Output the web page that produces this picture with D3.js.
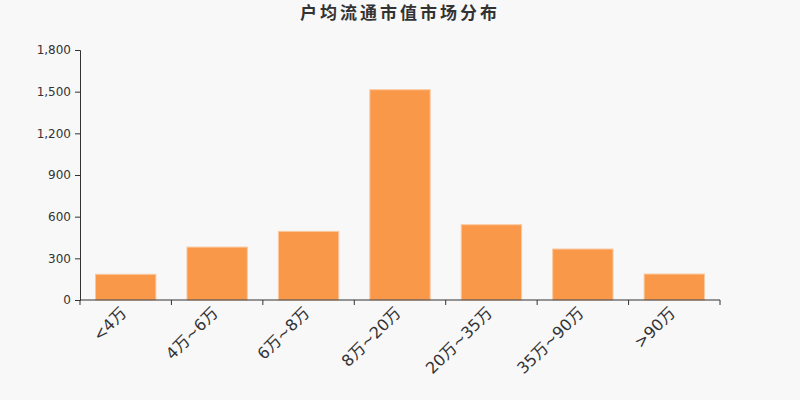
<!DOCTYPE html>
<html><head><meta charset="utf-8">
<script src="https://cdn.jsdelivr.net/npm/d3@7"></script>
<style>body{margin:0;background:#f8f8f8;}svg{display:block;font-family:"DejaVu Sans","Noto Sans CJK SC",sans-serif;}</style>
</head><body><svg id="c" width="800" height="400"></svg>
<script>
const categories = ["<4万","4万~6万","6万~8万","8万~20万","20万~35万","35万~90万",">90万"];
const values = [185, 381, 494, 1514, 542, 367, 187];
const yTicks = [0, 300, 600, 900, 1200, 1500, 1800];
const title = "户均流通市值市场分布";

const svg = d3.select("#c");
svg.append("rect").attr("width",800).attr("height",400).attr("fill","#f8f8f8");
const m = {l:80, r:80, t:50, b:100};
const x = d3.scaleBand().domain(categories).range([m.l, 800-m.r]).paddingInner(0.34).paddingOuter(0.17);
const y = d3.scaleLinear().domain([0,1800]).range([400-m.b, m.t]);

svg.append("text").attr("x",400).attr("y",19).attr("text-anchor","middle")
  .attr("font-size",17).attr("font-weight","bold").attr("letter-spacing",3).attr("fill","#333").text(title);

svg.selectAll("rect.bar").data(values).join("rect").attr("class","bar")
  .attr("x",(d,i)=>x(categories[i])).attr("width",x.bandwidth())
  .attr("y",d=>y(d)).attr("height",d=>y(0)-y(d))
  .attr("fill","#f89848").attr("stroke","#fbc8a0").attr("stroke-width",1);

const ya = svg.append("g").attr("transform",`translate(${m.l},0)`)
  .call(d3.axisLeft(y).tickValues(yTicks).tickSize(5).tickPadding(4).tickFormat(d3.format(",")));
ya.select(".domain").attr("stroke","#333");
ya.selectAll(".tick line").attr("stroke","#333");
ya.selectAll("text").attr("font-size",12).attr("fill","#333").attr("font-family","DejaVu Sans");

// x axis with ticks at band boundaries
const xg = svg.append("g").attr("transform",`translate(0,${y(0)})`);
xg.append("line").attr("x1",m.l).attr("x2",800-m.r).attr("stroke","#333");
const bounds = d3.range(categories.length+1).map(i=>m.l + i*(800-m.l-m.r)/categories.length);
xg.selectAll("line.t").data(bounds).join("line").attr("class","t")
  .attr("x1",d=>d).attr("x2",d=>d).attr("y1",0).attr("y2",5).attr("stroke","#333");
xg.selectAll("text").data(categories).join("text")
  .attr("transform",d=>`translate(${x(d)+x.bandwidth()/2-6},${6}) rotate(-45)`)
  .attr("text-anchor","end").attr("dy","0.7em").attr("font-size",16).attr("fill","#333").text(d=>d);
</script></body></html>
